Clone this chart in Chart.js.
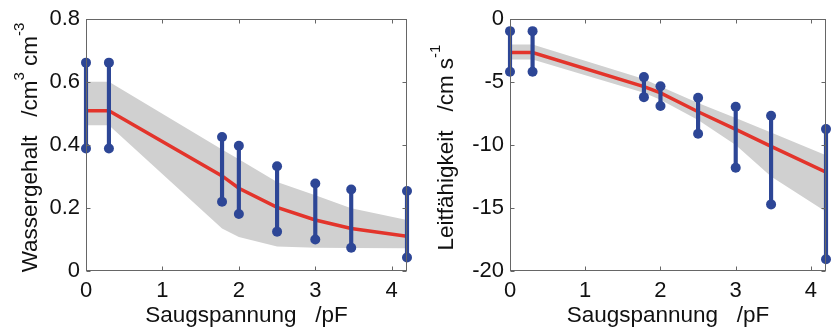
<!DOCTYPE html>
<html>
<head>
<meta charset="utf-8">
<script src="https://cdn.jsdelivr.net/npm/chart.js@4.4.0/dist/chart.umd.min.js"></script>
<style>
  html, body { margin: 0; padding: 0; background: #fff; }
  #wrap { position: relative; width: 831px; height: 331px; overflow: hidden; }
  canvas { position: absolute; top: 0; }
</style>
</head>
<body>
<div id="wrap">
  <canvas id="theta-chart" width="415" height="331" style="left:0"></canvas>
  <canvas id="k-chart" width="416" height="331" style="left:415px"></canvas>
</div>
<script>
// suction of the measured points (pF)
const pF = [0, 0.3, 1.78, 2.0, 2.5, 3.0, 3.47, 4.2];
const pFTicks = [0, 1, 2, 3, 4];

// water content, left panel (cm3 cm-3)
const thetaLow = [0.389, 0.389, 0.220, 0.181, 0.125, 0.100, 0.074, 0.043];
const thetaHigh = [0.662, 0.662, 0.426, 0.398, 0.333, 0.278, 0.259, 0.254];
const thetaFit = [0.509, 0.509, 0.302, 0.263, 0.202, 0.162, 0.135, 0.110];
const thetaBandLow = [0.463, 0.463, 0.135, 0.108, 0.078, 0.074, 0.073, 0.072];
const thetaBandHigh = [0.601, 0.601, 0.386, 0.355, 0.283, 0.241, 0.199, 0.162];
const thetaTicks = [0, 0.2, 0.4, 0.6, 0.8];

// conductivity, right panel (cm s-1)
const kLow = [-4.18, -4.18, -6.19, -6.90, -9.10, -11.80, -14.71, -19.07];
const kHigh = [-0.95, -0.95, -4.60, -5.32, -6.24, -6.96, -7.67, -8.73];
const kFit = [-2.65, -2.65, -5.35, -5.85, -7.35, -8.75, -10.10, -12.15];
const kBandLow = [-3.20, -3.20, -5.85, -6.40, -8.00, -10.00, -12.50, -15.30];
const kBandHigh = [-2.00, -2.00, -4.75, -5.35, -6.65, -7.85, -9.00, -10.80];
const kTicks = [-20, -15, -10, -5, 0];

// axis titles, [text, isSuperscript]
const xTitle = 'Saugspannung   /pF';
const thetaTitle = [['Wassergehalt   /cm', false], ['3', true], [' cm', false], ['-3', true]];
const kTitle = [['Leitfähigkeit   /cm s', false], ['-1', true]];

const BLUE = '#2d4696';
const RED = '#e3342b';
const GREY = '#d0d0d0';
const FRAME = '#666666';
const FONT = "'Liberation Sans', Arial, Helvetica, sans-serif";

Chart.defaults.font.family = FONT;
Chart.defaults.color = '#111';

// box round the plot area with small inward ticks, matlab style
const framePlugin = {
    id: 'frame',
    afterDatasetsDraw: (chart) => {
        const { ctx, chartArea: a, scales } = chart;
        const l = Math.round(a.left) + 0.5;
        const r = Math.round(a.right) - 0.5;
        const t = Math.round(a.top) + 0.5;
        const b = Math.round(a.bottom) - 0.5;
        const len = 4;
        ctx.save();
        ctx.strokeStyle = FRAME;
        ctx.lineWidth = 1;
        ctx.strokeRect(l, t, r - l, b - t);
        ctx.beginPath();
        scales.x.ticks.forEach((tk) => {
            const px = Math.round(scales.x.getPixelForValue(tk.value)) + 0.5;
            ctx.moveTo(px, b); ctx.lineTo(px, b - len);
            ctx.moveTo(px, t); ctx.lineTo(px, t + len);
        });
        scales.y.ticks.forEach((tk) => {
            const py = Math.round(scales.y.getPixelForValue(tk.value)) + 0.5;
            ctx.moveTo(l, py); ctx.lineTo(l + len, py);
            ctx.moveTo(r, py); ctx.lineTo(r - len, py);
        });
        ctx.stroke();
        ctx.restore();
    }
};

// rotated y title with superscripts
const yTitlePlugin = {
    id: 'yTitle',
    afterDraw: (chart, args, opts) => {
        const { ctx } = chart;
        const mainFont = `22.5px ${FONT}`;
        const supFont = `15px ${FONT}`;
        let total = 0;
        const widths = opts.parts.map(([text, sup]) => {
            ctx.font = sup ? supFont : mainFont;
            const w = ctx.measureText(text).width;
            total += w;
            return w;
        });
        ctx.save();
        ctx.translate(opts.x, opts.y);
        ctx.rotate(-Math.PI / 2);
        ctx.fillStyle = '#111';
        ctx.textBaseline = 'alphabetic';
        ctx.textAlign = 'left';
        let pos = -total / 2;
        opts.parts.forEach(([text, sup], i) => {
            ctx.font = sup ? supFont : mainFont;
            ctx.fillText(text, pos, sup ? -13 : 0);
            pos += widths[i];
        });
        ctx.restore();
    }
};

const buildChart = (canvasId, cfg) => {
    const points = pF.map((x, i) => ({ x, y: cfg.low[i] }))
        .concat(pF.map((x, i) => ({ x, y: cfg.high[i] })));

    return new Chart(document.getElementById(canvasId), {
        type: 'bar',
        data: {
            datasets: [{
                // end markers of the measured ranges
                type: 'line',
                data: points,
                showLine: false,
                pointRadius: 5,
                pointBackgroundColor: BLUE,
                pointBorderWidth: 0,
                clip: false
            }, {
                // measured ranges
                type: 'bar',
                data: pF.map((x, i) => ({ x, y: [cfg.low[i], cfg.high[i]] })),
                backgroundColor: BLUE,
                barThickness: 3.5,
                borderWidth: 0,
                clip: false
            }, {
                // fitted curve
                type: 'line',
                data: pF.map((x, i) => ({ x, y: cfg.fit[i] })),
                borderColor: RED,
                borderWidth: 3.5,
                pointRadius: 0,
                tension: 0
            }, {
                // uncertainty band
                type: 'line',
                data: pF.map((x, i) => ({ x, y: cfg.bandHigh[i] })),
                borderWidth: 0,
                pointRadius: 0,
                backgroundColor: GREY,
                fill: '+1'
            }, {
                type: 'line',
                data: pF.map((x, i) => ({ x, y: cfg.bandLow[i] })),
                borderWidth: 0,
                pointRadius: 0,
                fill: false
            }]
        },
        options: {
            responsive: false,
            animation: false,
            events: [],
            layout: { padding: { left: 0, right: cfg.padRight, top: 19, bottom: 0 } },
            plugins: {
                legend: { display: false },
                tooltip: { enabled: false },
                yTitle: { parts: cfg.title, x: cfg.titleX, y: 147.5 }
            },
            scales: {
                x: {
                    type: 'linear',
                    min: 0,
                    max: 4.2,
                    offset: false,
                    grid: { display: false, drawTicks: false },
                    border: { display: false },
                    afterBuildTicks: (scale) => { scale.ticks = pFTicks.map((v) => ({ value: v })); },
                    afterFit: (scale) => { scale.height = 60; },
                    ticks: {
                        padding: 7,
                        font: { size: 22 },
                        callback: (v) => String(v)
                    },
                    title: {
                        display: true,
                        text: xTitle,
                        font: { size: 22.5 },
                        color: '#111',
                        padding: { top: 0, bottom: 2 }
                    }
                },
                y: {
                    type: 'linear',
                    min: cfg.yTicks[0],
                    max: cfg.yTicks[cfg.yTicks.length - 1],
                    grid: { display: false, drawTicks: false },
                    border: { display: false },
                    afterBuildTicks: (scale) => { scale.ticks = cfg.yTicks.map((v) => ({ value: v })); },
                    afterFit: (scale) => { scale.width = cfg.yWidth; },
                    ticks: {
                        padding: 6,
                        font: { size: 22 },
                        callback: (v) => String(v)
                    }
                }
            }
        },
        plugins: [framePlugin, yTitlePlugin]
    });
};

buildChart('theta-chart', {
    low: thetaLow, high: thetaHigh, fit: thetaFit,
    bandLow: thetaBandLow, bandHigh: thetaBandHigh,
    yTicks: thetaTicks, title: thetaTitle,
    yWidth: 86, padRight: 8, titleX: 37
});

buildChart('k-chart', {
    low: kLow, high: kHigh, fit: kFit,
    bandLow: kBandLow, bandHigh: kBandHigh,
    yTicks: kTicks, title: kTitle,
    yWidth: 95, padRight: 1, titleX: 38
});
</script>
</body>
</html>
